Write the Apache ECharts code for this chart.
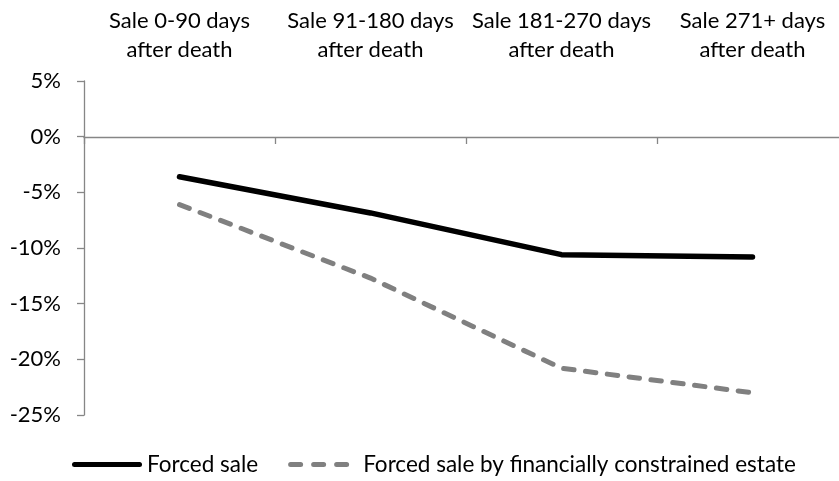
<!DOCTYPE html>
<html>
<head>
<meta charset="utf-8">
<script src="https://cdn.jsdelivr.net/npm/echarts@6/dist/echarts.min.js"></script>
<style>html,body{margin:0;padding:0;background:#fff;}#c{width:839px;height:481px;}</style>
</head>
<body>
<div id="c"></div>
<script>
const categories = ['Sale 0-90 days\nafter death', 'Sale 91-180 days\nafter death', 'Sale 181-270 days\nafter death', 'Sale 271+ days\nafter death'];
const forcedSale = [-3.6, -6.85, -10.6, -10.8];
const forcedSaleConstrained = [-6.1, -12.7, -20.8, -23.0];
const seriesNames = ['Forced sale', 'Forced sale by financially constrained estate'];
const yMin = -25, yMax = 5, yStep = 5;

const FONT = 'Lato';
const AXIS_COLOR = '#868686';
const solidIcon = 'path://M2.5,0H67.5A2.5,2.5 0 0 1 67.5,5H2.5A2.5,2.5 0 0 1 2.5,0Z';
const dashIcon = 'path://M2.5,0H12.5A2.5,2.5 0 0 1 12.5,5H2.5A2.5,2.5 0 0 1 2.5,0Z' +
  'M25.5,0H35.5A2.5,2.5 0 0 1 35.5,5H25.5A2.5,2.5 0 0 1 25.5,0Z' +
  'M48.5,0H58.5A2.5,2.5 0 0 1 58.5,5H48.5A2.5,2.5 0 0 1 48.5,0Z' +
  'M70,0L70,5';

const chart = echarts.init(document.getElementById('c'), null, {renderer: 'canvas'});
chart.setOption({
  animation: false,
  backgroundColor: '#fff',
  textStyle: {fontFamily: FONT, color: '#000'},
  grid: [
    {left: 84, top: 81, right: -9, bottom: 66, outerBoundsMode: 'none', containLabel: false},
    {left: 84, top: 81, right: -9, bottom: 344, outerBoundsMode: 'none', containLabel: false}
  ],
  legend: {
    left: 72, top: 453, padding: 0,
    itemWidth: 70, itemHeight: 5, itemGap: 30,
    symbolKeepAspect: false,
    textStyle: {fontFamily: FONT, fontSize: 22.5, color: '#000'},
    data: [
      {name: seriesNames[0], icon: solidIcon, itemStyle: {color: '#000'}},
      {name: seriesNames[1], icon: dashIcon, itemStyle: {color: '#808080'}}
    ]
  },
  xAxis: [{
    type: 'category', data: categories, position: 'top', boundaryGap: true, gridIndex: 0,
    axisLine: {show: false}, axisTick: {show: false},
    axisLabel: {fontFamily: FONT, fontSize: 22, color: '#000', lineHeight: 29, margin: 17, interval: 0}
  }, {
    type: 'category', data: categories, position: 'bottom', boundaryGap: true, gridIndex: 1,
    axisLine: {show: true, onZero: false, lineStyle: {color: AXIS_COLOR, width: 1.3}},
    axisTick: {show: true, length: 7, lineStyle: {color: AXIS_COLOR, width: 1.3}},
    axisLabel: {show: false}
  }],
  yAxis: [{
    type: 'value', min: yMin, max: yMax, interval: yStep, gridIndex: 0,
    axisLine: {show: true, lineStyle: {color: AXIS_COLOR, width: 1.3}},
    axisTick: {show: true, length: 7, lineStyle: {color: AXIS_COLOR, width: 1.3}},
    splitLine: {show: false},
    axisLabel: {fontFamily: FONT, fontSize: 22, color: '#000', margin: 23, formatter: '{value}%'}
  }, {
    type: 'value', min: 0, max: yMax, gridIndex: 1, show: false
  }],
  series: [{
    name: seriesNames[0], type: 'line', data: forcedSale, xAxisIndex: 0, yAxisIndex: 0,
    symbol: 'none', smooth: false,
    lineStyle: {color: '#000', width: 5.5, cap: 'round', join: 'round'},
    itemStyle: {color: '#000'}
  }, {
    name: seriesNames[1], type: 'line', data: forcedSaleConstrained, xAxisIndex: 0, yAxisIndex: 0,
    symbol: 'none', smooth: false,
    lineStyle: {color: '#808080', width: 5, type: [10.5, 11.5], cap: 'round', join: 'round'},
    itemStyle: {color: '#808080'}
  }]
});
</script>
</body>
</html>
